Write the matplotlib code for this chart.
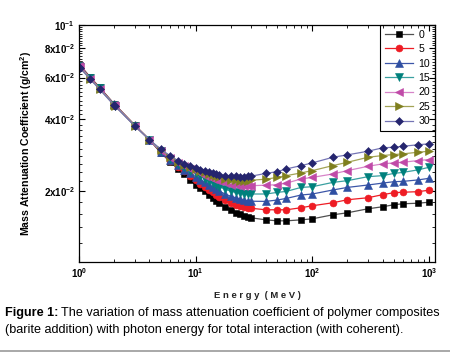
import numpy as np
import matplotlib
matplotlib.use("Agg")
import matplotlib.pyplot as plt
from matplotlib.ticker import FixedLocator, NullFormatter

plt.rcParams["font.family"] = ["Liberation Sans", "DejaVu Sans"]
plt.rcParams["mathtext.fontset"] = "custom"
plt.rcParams["mathtext.rm"] = "Liberation Sans"
plt.rcParams["mathtext.bf"] = "Liberation Sans:bold"
plt.rcParams["mathtext.default"] = "bf"

# Photon energy grid (MeV)
energy = [1, 1.022, 1.25, 1.5, 2, 2.044, 3, 4, 5, 6, 7, 8, 9, 10, 11, 12, 13,
          14, 15, 16, 18, 20, 22, 24, 26, 28, 30, 40, 50, 60, 80, 100, 150,
          200, 300, 400, 500, 600, 800, 1000]

# Mass attenuation coefficient (g/cm2) for each barite content (wt %)
mu_0 = [0.06834, 0.06767, 0.06021, 0.05461, 0.04649, 0.04603, 0.03788, 0.03287,
        0.02896, 0.02653, 0.02478, 0.02348, 0.02225, 0.02119, 0.02048, 0.01990,
        0.01923, 0.01867, 0.01813, 0.01778, 0.01702, 0.01653, 0.01613, 0.01589,
        0.01566, 0.01551, 0.01536, 0.01506, 0.01492, 0.01492, 0.01506, 0.01521,
        0.01582, 0.01613, 0.01677, 0.01710, 0.01744, 0.01761, 0.01770, 0.01787]
mu_5 = [0.06801, 0.06734, 0.06003, 0.05445, 0.04638, 0.04592, 0.03781, 0.03287,
        0.02910, 0.02679, 0.02526, 0.02418, 0.02303, 0.02214, 0.02140, 0.02078,
        0.02018, 0.01970, 0.01923, 0.01886, 0.01822, 0.01778, 0.01744, 0.01719,
        0.01702, 0.01694, 0.01685, 0.01661, 0.01661, 0.01661, 0.01694, 0.01727,
        0.01778, 0.01831, 0.01867, 0.01923, 0.01961, 0.01970, 0.01980, 0.02008]
mu_10 = [0.06767, 0.06702, 0.05979, 0.05424, 0.04626, 0.04581, 0.03770, 0.03287,
         0.02925, 0.02705, 0.02564, 0.02442, 0.02371, 0.02291, 0.02225, 0.02172,
         0.02119, 0.02068, 0.02028, 0.01990, 0.01932, 0.01895, 0.01867, 0.01840,
         0.01822, 0.01813, 0.01805, 0.01802, 0.01826, 0.01855, 0.01917, 0.01936,
         0.02013, 0.02064, 0.02113, 0.02152, 0.02182, 0.02189, 0.02219, 0.02254]
mu_15 = [0.06734, 0.06669, 0.05962, 0.05408, 0.04614, 0.04570, 0.03763, 0.03287,
         0.02939, 0.02731, 0.02601, 0.02509, 0.02430, 0.02365, 0.02303, 0.02247,
         0.02193, 0.02150, 0.02109, 0.02078, 0.02028, 0.01990, 0.01970, 0.01951,
         0.01942, 0.01936, 0.01936, 0.01936, 0.01966, 0.01986, 0.02064, 0.02078,
         0.02167, 0.02204, 0.02291, 0.02314, 0.02365, 0.02389, 0.02446, 0.02509]
mu_20 = [0.06702, 0.06637, 0.05945, 0.05392, 0.04603, 0.04559, 0.03759, 0.03287,
         0.02953, 0.02758, 0.02627, 0.02551, 0.02478, 0.02430, 0.02371, 0.02314,
         0.02280, 0.02247, 0.02214, 0.02193, 0.02150, 0.02119, 0.02109, 0.02099,
         0.02099, 0.02099, 0.02099, 0.02109, 0.02119, 0.02152, 0.02240, 0.02275,
         0.02352, 0.02430, 0.02534, 0.02594, 0.02619, 0.02635, 0.02679, 0.02705]
mu_25 = [0.06669, 0.06605, 0.05928, 0.05376, 0.04592, 0.04548, 0.03756, 0.03287,
         0.02983, 0.02785, 0.02653, 0.02576, 0.02514, 0.02470, 0.02430, 0.02389,
         0.02359, 0.02325, 0.02303, 0.02280, 0.02247, 0.02225, 0.02214, 0.02204,
         0.02204, 0.02204, 0.02214, 0.02236, 0.02275, 0.02314, 0.02376, 0.02430,
         0.02551, 0.02635, 0.02766, 0.02813, 0.02840, 0.02860, 0.02904, 0.02933]
mu_30 = [0.06637, 0.06573, 0.05904, 0.05355, 0.04581, 0.04537, 0.03752, 0.03287,
         0.02997, 0.02813, 0.02679, 0.02594, 0.02539, 0.02490, 0.02453, 0.02418,
         0.02394, 0.02371, 0.02352, 0.02336, 0.02314, 0.02303, 0.02298, 0.02291,
         0.02291, 0.02296, 0.02303, 0.02365, 0.02406, 0.02470, 0.02551, 0.02619,
         0.02766, 0.02832, 0.02933, 0.03032, 0.03050, 0.03080, 0.03122, 0.03153]

labels = ["0", "5", "10", "15", "20", "25", "30"]
series = [mu_0, mu_5, mu_10, mu_15, mu_20, mu_25, mu_30]

ytick_vals = [0.02, 0.04, 0.06, 0.08, 0.1]
ytick_labels = [r"$2x10^{-2}$", r"$4x10^{-2}$", r"$6x10^{-2}$",
                r"$8x10^{-2}$", r"$10^{-1}$"]
xtick_vals = [1, 10, 100, 1000]
xtick_labels = [r"$10^{0}$", r"$10^{1}$", r"$10^{2}$", r"$10^{3}$"]

markers = ["s", "o", "^", "v", "<", ">", "D"]
marker_colors = ["#000000", "#ee1c24", "#2f4fa2", "#00807c", "#c04aa8",
                 "#7f7f1e", "#25256e"]
line_colors = ["#505050", "#ee1c24", "#3c56a8", "#3aa0a0", "#d784c8",
               "#a3a355", "#7474b4"]
marker_sizes = [4.8, 5.0, 5.2, 5.2, 5.2, 5.2, 4.5]

fig = plt.figure(figsize=(4.5, 3.54), dpi=100)
ax = fig.add_axes([79 / 450, 1 - 262 / 354, 356 / 450, 237 / 354])

for i, mu in enumerate(series):
    ax.plot(energy, mu, color=line_colors[i], lw=0.9, marker=markers[i],
            markersize=marker_sizes[i], markerfacecolor=marker_colors[i],
            markeredgecolor=marker_colors[i], markeredgewidth=0.4,
            label=labels[i])

ax.set_xscale("log")
ax.set_yscale("log")
ax.set_xlim(1, 1127)
ax.set_ylim(0.01, 0.1)

ax.xaxis.set_major_locator(FixedLocator(xtick_vals))
ax.set_xticklabels(xtick_labels)
ax.xaxis.set_minor_locator(FixedLocator(
    [m * 10 ** d for d in range(3) for m in range(2, 10)]))
ax.xaxis.set_minor_formatter(NullFormatter())

ax.yaxis.set_major_locator(FixedLocator(ytick_vals))
ax.set_yticklabels(ytick_labels)
minor_y = [v for v in np.arange(0.012, 0.1, 0.002)
           if min(abs(v - t) for t in ytick_vals) > 1e-6]
ax.yaxis.set_minor_locator(FixedLocator(minor_y))
ax.yaxis.set_minor_formatter(NullFormatter())

ax.tick_params(which="both", direction="in", top=True, right=True,
               labelsize=7, pad=3)
ax.tick_params(which="major", length=4, width=0.8)
ax.tick_params(which="minor", length=2, width=0.6)
for s in ax.spines.values():
    s.set_linewidth(0.9)

ax.set_xlabel("E n e r g y  ( M e V )", fontsize=6.8, fontweight="bold",
              labelpad=8, color="#222222")
ax.set_ylabel(r"Mass Attenuation Coefficient (g/cm$^{2}$)", fontsize=7.6,
              fontweight="bold", labelpad=7)

leg = ax.legend(loc="upper right", borderaxespad=0, fontsize=7.6,
                handlelength=2.7, handletextpad=0.5, labelspacing=0.42,
                borderpad=0.45, fancybox=False, edgecolor="black",
                facecolor="none", framealpha=1)
leg.get_frame().set_linewidth(0.8)

# caption
renderer = fig.canvas.get_renderer()
t1 = fig.text(5 / 450, 1 - 313 / 354, "Figure 1:", fontsize=9.1,
              fontweight="bold", va="center", ha="left")
bb = t1.get_window_extent(renderer)
fig.text(bb.x1 / 450 + 3 / 450, 1 - 313 / 354,
         "The variation of mass attenuation coefficient of polymer composites",
         fontsize=9.1, va="center", ha="left")
fig.text(5 / 450, 1 - 330 / 354,
         "(barite addition) with photon energy for total interaction (with coherent).",
         fontsize=9.1, va="center", ha="left")
fig.add_artist(plt.Line2D([0, 1], [1 - 351 / 354, 1 - 351 / 354],
                          color="#999999", lw=1.2))

fig.savefig("out.png", dpi=100)
